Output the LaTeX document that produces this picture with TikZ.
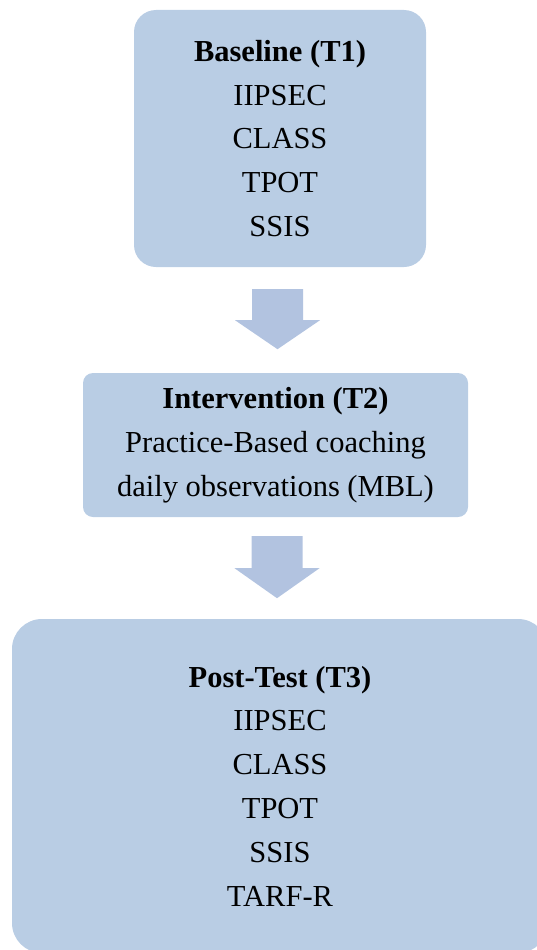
\documentclass[tikz,border=0pt]{standalone}
\usepackage{fontspec}
\setmainfont{Liberation Serif}
\usetikzlibrary{calc}
\definecolor{boxblue}{RGB}{185,205,228}
\definecolor{arrowblue}{RGB}{178,195,224}

\begin{document}
\begin{tikzpicture}[x=1pt, y=1pt,
        stage/.style={fill=boxblue, align=center, inner sep=0, font=\fontsize{30.5}{43.8}\selectfont},
    ]
    \useasboundingbox (0,0) rectangle (536,-950);
    % block arrows between stages
    \tikzstyle{down}=[fill=arrowblue]
    % stage boxes
    \node[stage, rounded corners=22, minimum width=292, minimum height=257] (T1) at (280,-138.5) {\textbf{Baseline (T1)}\\IIPSEC\\CLASS\\TPOT\\SSIS};
    \node[stage, rounded corners=10, minimum width=385, minimum height=144] (T2) at (275.5,-445) {\textbf{Intervention (T2)}\\Practice-Based coaching\\daily observations (MBL)};
    \node[stage, rounded corners=30, minimum width=536, minimum height=334] (T3) at (280,-786) {\textbf{Post-Test (T3)}\\IIPSEC\\CLASS\\TPOT\\SSIS\\TARF-R};
    \coordinate (A1) at ($(T1.south)+(-2.5,-22)$);
    \coordinate (A2) at ($(T2.south)+(1.5,-19)$);
    \fill[down] ($(A1)+(-25.5,0)$) -- ($(A1)+(25.5,0)$) -- ($(A1)+(25.5,-31)$) -- ($(A1)+(42.5,-31)$)
        -- ($(A1)+(0,-60)$) -- ($(A1)+(-42.5,-31)$) -- ($(A1)+(-25.5,-31)$) -- cycle;
    \fill[down] ($(A2)+(-25.5,0)$) -- ($(A2)+(25.5,0)$) -- ($(A2)+(25.5,-32)$) -- ($(A2)+(42.5,-32)$)
        -- ($(A2)+(0,-62)$) -- ($(A2)+(-42.5,-32)$) -- ($(A2)+(-25.5,-32)$) -- cycle;
\end{tikzpicture}
\end{document}
